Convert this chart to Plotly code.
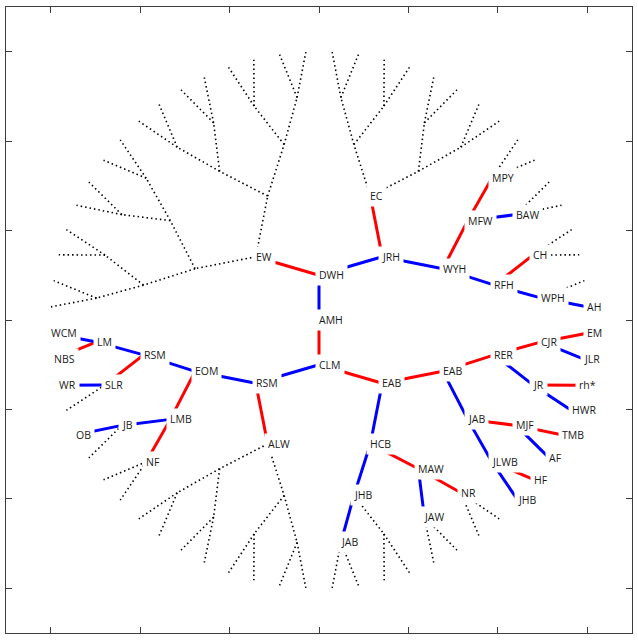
import math
import plotly.graph_objects as go

# Pedigree in Ahnentafel numbering: 1 = root, 2n = father of n, 2n+1 = mother of n.
# Only the known ancestors are listed; every other slot up to max_gen is drawn dotted.
ahnen = [1, 2, 3, 4, 5, 6, 7, 8, 9, 12, 13, 14, 15, 16, 17,
         24, 25, 28, 29, 30, 31, 32, 33, 34, 35,
         48, 49, 50, 51, 56, 58, 59, 60, 61, 62, 63,
         64, 96, 97, 98, 100, 120, 121, 122, 123, 124, 125, 126, 127]
names = ["AMH", "DWH", "CLM", "JRH", "EW", "RSM", "EAB", "WYH", "EC", "EOM", "ALW", "HCB", "EAB", "RFH", "MFW",
         "RSM", "LMB", "JHB", "MAW", "JAB", "RER", "WPH", "CH", "BAW", "MPY",
         "LM", "SLR", "JB", "NF", "JAB", "JAW", "NR", "JLWB", "MJF", "JR", "CJR",
         "AH", "WCM", "NBS", "WR", "OB", "JHB", "HF", "AF", "TMB", "HWR", "rh*", "JLR", "EM"]
max_gen = 6
ring_step = 0.5

known = dict(zip(ahnen, names))


def fan_position(k):
    # generation g sits on ring g; each person splits its angular sector between father and mother
    g = int(math.log2(k))
    if g == 0:
        return 0.0, 0.0
    i = k - 2 ** g
    theta = (i + 0.5) * 2 * math.pi / 2 ** g
    r = ring_step * g
    return r * math.cos(theta), r * math.sin(theta)


red_x, red_y, blue_x, blue_y, dot_x, dot_y = [], [], [], [], [], []
for k in range(2, 2 ** (max_gen + 1)):
    cx, cy = fan_position(k // 2)
    px, py = fan_position(k)
    if k in known and (k // 2) in known:
        xs, ys = (blue_x, blue_y) if k % 2 == 0 else (red_x, red_y)
    else:
        xs, ys = dot_x, dot_y
    xs += [cx, px, None]
    ys += [cy, py, None]

fig = go.Figure()
fig.add_trace(go.Scatter(x=dot_x, y=dot_y, mode="lines",
                         line=dict(color="black", width=1.6, dash="1.5px,3px"), hoverinfo="skip"))
fig.add_trace(go.Scatter(x=red_x, y=red_y, mode="lines",
                         line=dict(color="#ff0000", width=3), hoverinfo="skip"))
fig.add_trace(go.Scatter(x=blue_x, y=blue_y, mode="lines",
                         line=dict(color="#0000ff", width=3), hoverinfo="skip"))

# labels start at the node point and hide the line ends under a white box
for k, name in zip(ahnen, names):
    x, y = fan_position(k)
    fig.add_annotation(x=x, y=y, text=name, showarrow=False, xanchor="left", yanchor="middle",
                       xshift=-4, bgcolor="white", borderpad=3,
                       font=dict(family="Open Sans", size=10.5, color="#1a1a1a"))

axis = dict(range=[-3.5, 3.5], dtick=1, tick0=0, showgrid=False, zeroline=False,
            showticklabels=False, ticks="inside", ticklen=6, tickwidth=1, tickcolor="#3c3c3c",
            showline=True, linecolor="#3c3c3c", linewidth=1, mirror="allticks")

fig.update_layout(
    width=638, height=640,
    margin=dict(l=6, r=6, t=7, b=7),
    xaxis=axis, yaxis=axis,
    plot_bgcolor="white", paper_bgcolor="white",
    showlegend=False,
)

# drop the browser's default body margin so the figure sits at the window corner
fig.write_html("out.html", config={"displayModeBar": False},
               post_script="document.body.style.margin = '0';")
